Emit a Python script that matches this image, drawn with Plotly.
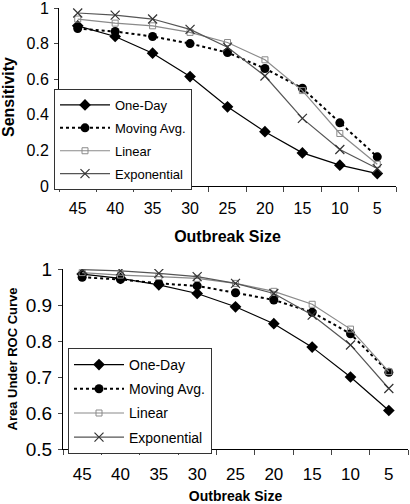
import plotly.graph_objects as go

sizes = ["45", "40", "35", "30", "25", "20", "15", "10", "5"]

sens_oneday = [0.90, 0.84, 0.746, 0.615, 0.445, 0.305, 0.186, 0.117, 0.07]
sens_movavg = [0.885, 0.868, 0.84, 0.80, 0.75, 0.66, 0.549, 0.355, 0.164]
sens_linear = [0.938, 0.915, 0.90, 0.863, 0.806, 0.709, 0.536, 0.295, 0.122]
sens_expon = [0.972, 0.96, 0.938, 0.88, 0.78, 0.618, 0.38, 0.205, 0.098]

auc_oneday = [0.986, 0.974, 0.956, 0.932, 0.895, 0.848, 0.783, 0.70, 0.607]
auc_movavg = [0.977, 0.971, 0.96, 0.953, 0.934, 0.914, 0.88, 0.82, 0.713]
auc_linear = [0.99, 0.983, 0.979, 0.974, 0.96, 0.938, 0.902, 0.833, 0.715]
auc_expon = [0.998, 0.995, 0.988, 0.979, 0.96, 0.932, 0.872, 0.789, 0.668]

series_names = ["One-Day", "Moving Avg.", "Linear", "Exponential"]

FONT = "Arial, Liberation Sans, sans-serif"

styles = [
    dict(line=dict(color="black", width=1.2), marker=dict(symbol="diamond", size=9, color="black")),
    dict(line=dict(color="black", width=2, dash="3px,3px"), marker=dict(symbol="circle", size=9, color="black")),
    dict(line=dict(color="#8a8a8a", width=1.2), marker=dict(symbol="square-open", size=6, color="#8a8a8a", line=dict(width=1))),
    dict(line=dict(color="#555555", width=1.2), marker=dict(symbol="x-thin-open", size=9, color="#333333", line=dict(width=1.2, color="#333333"))),
]

fig = go.Figure()

for i, (name, vals, st) in enumerate(zip(series_names, [sens_oneday, sens_movavg, sens_linear, sens_expon], styles)):
    fig.add_trace(go.Scatter(x=sizes, y=vals, name=name, mode="lines+markers",
                             legendgroup=f"a{i}", xaxis="x", yaxis="y", legend="legend", **st))
for i, (name, vals, st) in enumerate(zip(series_names, [auc_oneday, auc_movavg, auc_linear, auc_expon], styles)):
    fig.add_trace(go.Scatter(x=sizes, y=vals, name=name, mode="lines+markers",
                             legendgroup=f"b{i}", xaxis="x2", yaxis="y2", legend="legend2", **st))

W, H = 410, 504

def px_x(p):
    return p / W

def px_y(p):
    return 1 - p / H

def xaxis_style(size, standoff):
    return dict(type="category", tickson="boundaries", ticks="outside", ticklen=5,
                showline=True, linecolor="black", linewidth=1, showgrid=False,
                zeroline=False, tickfont=dict(family=FONT, size=size, color="black"),
                range=[-0.5, 8.5], automargin=False, ticklabelstandoff=standoff,
                ticklabeloverflow="allow")

def yaxis_style(size):
    return dict(ticks="outside", ticklen=4, showline=True, linecolor="black", linewidth=1,
                showgrid=False, zeroline=False, tickfont=dict(family=FONT, size=size, color="black"),
                automargin=False, ticklabelstandoff=2, ticklabeloverflow="allow")

def legend_style(size, gap):
    return dict(bgcolor="white", bordercolor="#333333", borderwidth=1,
                font=dict(family=FONT, size=size, color="black"),
                xanchor="left", yanchor="top", tracegroupgap=gap, itemwidth=50)

fig.update_layout(
    width=W, height=H,
    margin=dict(l=0, r=0, t=0, b=0, autoexpand=False),
    paper_bgcolor="white", plot_bgcolor="white",
    xaxis=dict(domain=[px_x(59), px_x(396)], anchor="y",
               title=dict(text="<b>Outbreak Size</b>", font=dict(family=FONT, size=16, color="black"), standoff=14),
               **xaxis_style(16, 8)),
    yaxis=dict(domain=[px_y(186), px_y(8)], anchor="x", range=[0, 1], dtick=0.2,
               title=dict(text="<b>Sensitivity</b>", font=dict(family=FONT, size=16, color="black"), standoff=10),
               **yaxis_style(16)),
    xaxis2=dict(domain=[px_x(63), px_x(408)], anchor="y2",
                title=dict(text="<b>Outbreak Size</b>", font=dict(family=FONT, size=14, color="black"), standoff=15),
                **xaxis_style(17, 10)),
    yaxis2=dict(domain=[px_y(449), px_y(269)], anchor="x2", range=[0.5, 1], dtick=0.1,
                title=dict(text="<b>Area Under ROC Curve</b>", font=dict(family=FONT, size=13, color="black"), standoff=5),
                **yaxis_style(19)),
    legend=dict(x=px_x(54), y=px_y(89), **legend_style(13, 3)),
    legend2=dict(x=px_x(68), y=px_y(348), **legend_style(14, 3)),
)

fig.write_html("out.html", config={"displayModeBar": False},
               post_script="document.body.style.margin='0';document.body.style.overflow='hidden';")
